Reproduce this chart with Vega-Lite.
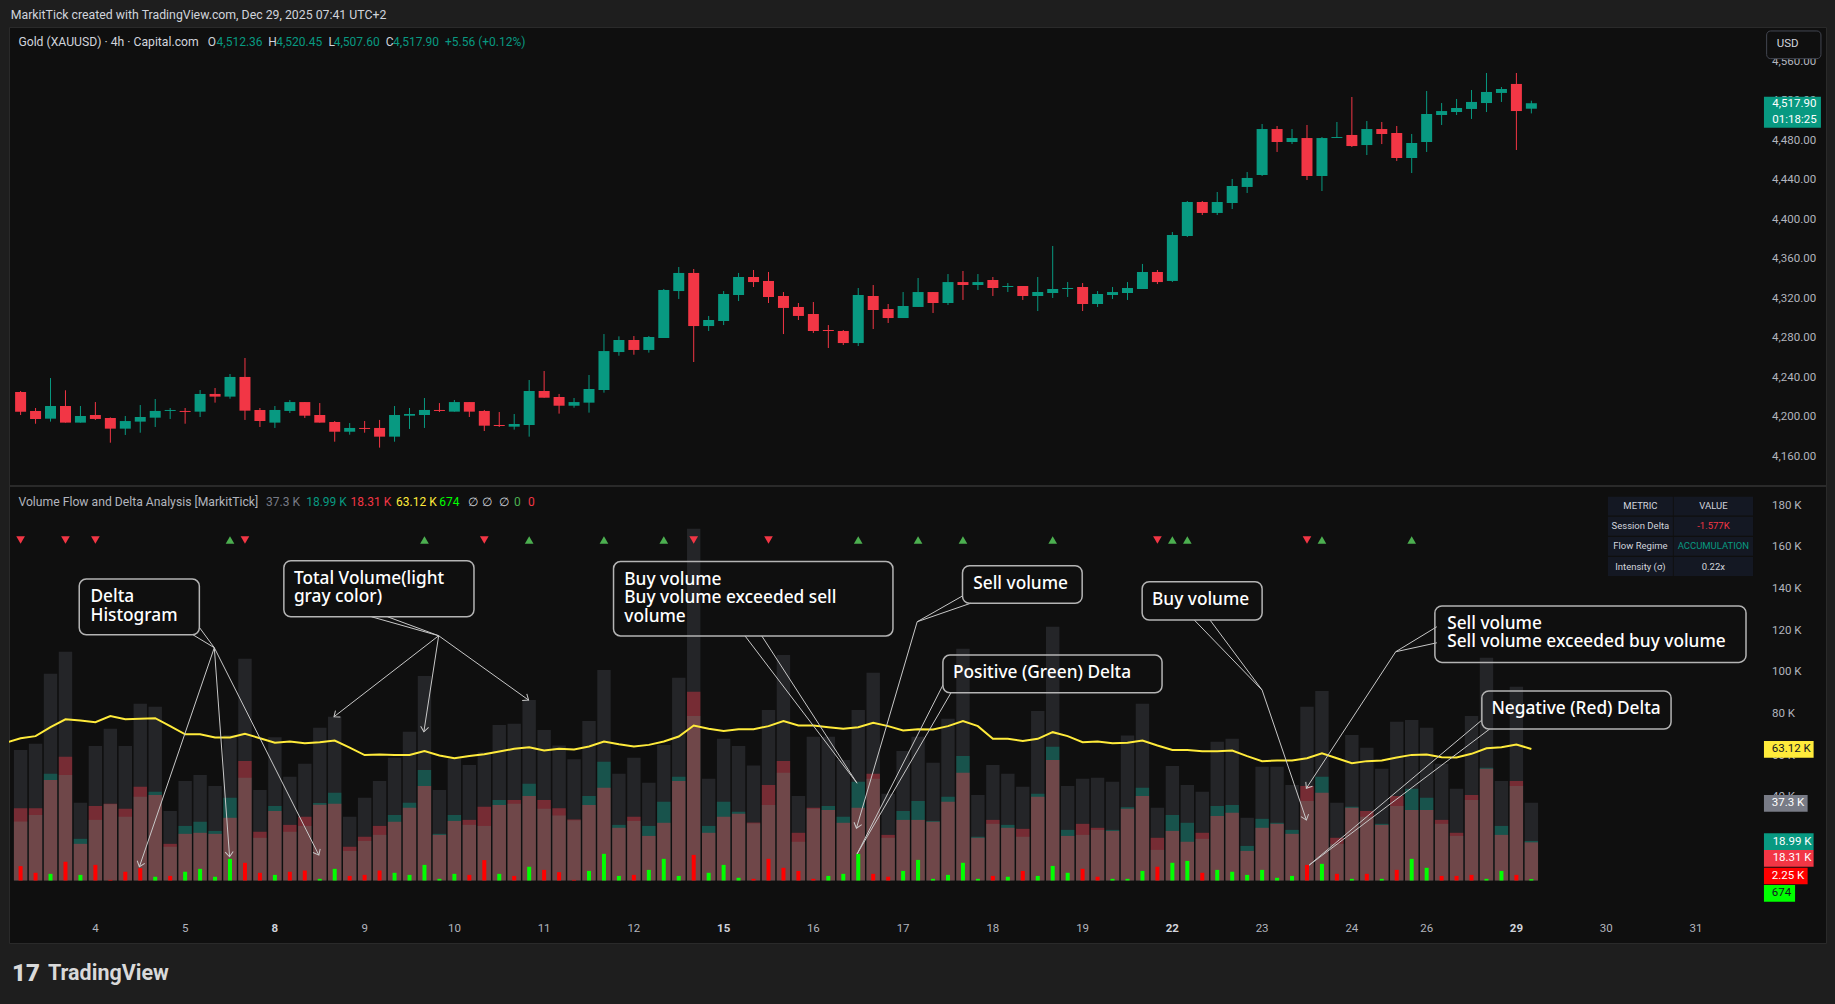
{
"$schema": "https://vega.github.io/schema/vega-lite/v6.json",
"width": 1817,
"height": 916,
"autosize": {"type": "none"},
"padding": {"left": 9, "top": 27, "right": 9, "bottom": 61},
"background": "#1e1e1e",
"config": {
  "view": {"fill": "#0f0f0f", "stroke": "#2a2a2a", "strokeWidth": 1},
  "text": {"font": "Roboto"}
},
"datasets": {
"px": [
{"i":0,"o":4225.8,"h":4226.8,"l":4202.5,"c":4205.9},
{"i":1,"o":4206.6,"h":4209.6,"l":4193.7,"c":4198.5},
{"i":2,"o":4198.8,"h":4239.9,"l":4195.8,"c":4211.6},
{"i":3,"o":4211.6,"h":4227.5,"l":4194.8,"c":4194.8},
{"i":4,"o":4194.8,"h":4211.6,"l":4194.8,"c":4201.5},
{"i":5,"o":4202.5,"h":4215.6,"l":4197.5,"c":4198.5},
{"i":6,"o":4199.5,"h":4200.1,"l":4174.5,"c":4188.7},
{"i":7,"o":4188.7,"h":4201.5,"l":4182.3,"c":4196.4},
{"i":8,"o":4195.8,"h":4212.6,"l":4184.6,"c":4200.5},
{"i":9,"o":4199.8,"h":4218.7,"l":4190.4,"c":4206.6},
{"i":10,"o":4206.6,"h":4209.6,"l":4198.5,"c":4207.6},
{"i":11,"o":4206.6,"h":4209.6,"l":4193.7,"c":4205.6},
{"i":12,"o":4205.9,"h":4227.8,"l":4200.5,"c":4223.8},
{"i":13,"o":4223.8,"h":4229.8,"l":4215.0,"c":4221.1},
{"i":14,"o":4221.1,"h":4244.0,"l":4219.0,"c":4241.0},
{"i":15,"o":4241.0,"h":4260.2,"l":4197.5,"c":4206.9},
{"i":16,"o":4207.6,"h":4209.6,"l":4190.4,"c":4196.4},
{"i":17,"o":4194.8,"h":4211.6,"l":4189.4,"c":4207.6},
{"i":18,"o":4206.6,"h":4217.7,"l":4204.5,"c":4215.6},
{"i":19,"o":4215.6,"h":4215.6,"l":4199.5,"c":4201.8},
{"i":20,"o":4202.5,"h":4214.6,"l":4194.8,"c":4194.8},
{"i":21,"o":4195.4,"h":4196.4,"l":4175.5,"c":4185.6},
{"i":22,"o":4185.6,"h":4194.4,"l":4182.6,"c":4189.4},
{"i":23,"o":4189.4,"h":4196.4,"l":4184.6,"c":4188.4},
{"i":24,"o":4189.4,"h":4197.5,"l":4169.5,"c":4180.6},
{"i":25,"o":4180.6,"h":4211.6,"l":4175.5,"c":4202.5},
{"i":26,"o":4201.8,"h":4209.6,"l":4188.4,"c":4203.5},
{"i":27,"o":4202.5,"h":4219.7,"l":4189.4,"c":4207.6},
{"i":28,"o":4207.6,"h":4214.6,"l":4205.5,"c":4206.6},
{"i":29,"o":4205.9,"h":4217.7,"l":4205.9,"c":4215.6},
{"i":30,"o":4215.6,"h":4215.6,"l":4200.5,"c":4205.9},
{"i":31,"o":4206.6,"h":4207.6,"l":4186.3,"c":4191.7},
{"i":32,"o":4192.4,"h":4205.5,"l":4190.4,"c":4191.4},
{"i":33,"o":4190.7,"h":4203.5,"l":4187.7,"c":4193.4},
{"i":34,"o":4192.4,"h":4237.9,"l":4180.6,"c":4226.8},
{"i":35,"o":4226.8,"h":4247.0,"l":4220.0,"c":4220.0},
{"i":36,"o":4220.7,"h":4223.8,"l":4203.9,"c":4211.9},
{"i":37,"o":4211.9,"h":4219.7,"l":4209.9,"c":4215.6},
{"i":38,"o":4215.0,"h":4243.0,"l":4204.9,"c":4228.8},
{"i":39,"o":4227.8,"h":4284.4,"l":4225.1,"c":4267.2},
{"i":40,"o":4266.2,"h":4282.1,"l":4262.5,"c":4278.4},
{"i":41,"o":4278.4,"h":4282.4,"l":4263.5,"c":4268.3},
{"i":42,"o":4268.3,"h":4282.4,"l":4265.6,"c":4281.4},
{"i":43,"o":4280.4,"h":4330.0,"l":4280.4,"c":4329.0},
{"i":44,"o":4327.9,"h":4352.2,"l":4319.9,"c":4346.2},
{"i":45,"o":4346.2,"h":4350.2,"l":4256.1,"c":4292.5},
{"i":46,"o":4292.5,"h":4302.7,"l":4287.5,"c":4298.6},
{"i":47,"o":4297.6,"h":4327.9,"l":4293.5,"c":4324.9},
{"i":48,"o":4323.9,"h":4346.2,"l":4317.8,"c":4342.1},
{"i":49,"o":4342.1,"h":4349.2,"l":4332.0,"c":4337.0},
{"i":50,"o":4338.1,"h":4347.2,"l":4315.8,"c":4321.9},
{"i":51,"o":4322.9,"h":4326.9,"l":4284.4,"c":4310.8},
{"i":52,"o":4311.8,"h":4315.8,"l":4298.6,"c":4302.7},
{"i":53,"o":4304.7,"h":4316.8,"l":4285.5,"c":4287.5},
{"i":54,"o":4288.5,"h":4293.5,"l":4270.3,"c":4287.5},
{"i":55,"o":4287.5,"h":4288.5,"l":4273.3,"c":4275.3},
{"i":56,"o":4275.3,"h":4331.0,"l":4272.3,"c":4323.9},
{"i":57,"o":4322.9,"h":4334.0,"l":4289.5,"c":4308.7},
{"i":58,"o":4309.7,"h":4314.8,"l":4295.6,"c":4300.6},
{"i":59,"o":4300.6,"h":4326.9,"l":4300.6,"c":4312.8},
{"i":60,"o":4311.8,"h":4341.1,"l":4311.8,"c":4326.9},
{"i":61,"o":4326.9,"h":4326.9,"l":4305.7,"c":4315.8},
{"i":62,"o":4315.8,"h":4345.1,"l":4313.8,"c":4337.0},
{"i":63,"o":4337.0,"h":4348.2,"l":4318.9,"c":4334.0},
{"i":64,"o":4334.0,"h":4345.1,"l":4329.0,"c":4337.0},
{"i":65,"o":4339.1,"h":4342.1,"l":4322.9,"c":4331.0},
{"i":66,"o":4332.0,"h":4336.0,"l":4326.9,"c":4333.0},
{"i":67,"o":4333.0,"h":4333.0,"l":4318.9,"c":4322.9},
{"i":68,"o":4322.9,"h":4342.1,"l":4307.7,"c":4326.9},
{"i":69,"o":4325.9,"h":4373.5,"l":4320.9,"c":4330.0},
{"i":70,"o":4330.0,"h":4337.0,"l":4321.9,"c":4331.0},
{"i":71,"o":4332.0,"h":4336.0,"l":4307.7,"c":4314.8},
{"i":72,"o":4314.8,"h":4327.9,"l":4311.8,"c":4324.9},
{"i":73,"o":4323.9,"h":4332.0,"l":4319.9,"c":4326.9},
{"i":74,"o":4325.9,"h":4337.0,"l":4318.9,"c":4331.0},
{"i":75,"o":4330.0,"h":4355.3,"l":4330.0,"c":4347.2},
{"i":76,"o":4347.2,"h":4349.2,"l":4335.0,"c":4337.0},
{"i":77,"o":4338.1,"h":4387.6,"l":4337.1,"c":4384.6},
{"i":78,"o":4383.6,"h":4419.0,"l":4382.6,"c":4418.0},
{"i":79,"o":4418.0,"h":4419.0,"l":4404.8,"c":4406.9},
{"i":80,"o":4406.9,"h":4428.1,"l":4404.8,"c":4418.0},
{"i":81,"o":4417.0,"h":4441.3,"l":4410.9,"c":4434.2},
{"i":82,"o":4433.2,"h":4448.3,"l":4427.1,"c":4442.3},
{"i":83,"o":4445.3,"h":4496.9,"l":4444.3,"c":4491.8},
{"i":84,"o":4491.8,"h":4494.9,"l":4468.6,"c":4478.7},
{"i":85,"o":4478.7,"h":4491.8,"l":4476.6,"c":4482.7},
{"i":86,"o":4482.7,"h":4495.9,"l":4440.2,"c":4444.3},
{"i":87,"o":4444.3,"h":4483.7,"l":4429.1,"c":4482.7},
{"i":88,"o":4482.7,"h":4498.9,"l":4482.7,"c":4483.7},
{"i":89,"o":4485.8,"h":4524.2,"l":4473.6,"c":4474.6},
{"i":90,"o":4475.6,"h":4499.9,"l":4465.5,"c":4491.8},
{"i":91,"o":4491.8,"h":4498.9,"l":4476.6,"c":4486.8},
{"i":92,"o":4487.8,"h":4494.9,"l":4459.5,"c":4462.5},
{"i":93,"o":4462.5,"h":4486.8,"l":4447.3,"c":4477.7},
{"i":94,"o":4478.7,"h":4530.3,"l":4468.6,"c":4507.0},
{"i":95,"o":4506.0,"h":4518.1,"l":4495.9,"c":4510.0},
{"i":96,"o":4509.0,"h":4522.2,"l":4506.0,"c":4513.1},
{"i":97,"o":4512.1,"h":4531.3,"l":4502.0,"c":4519.2},
{"i":98,"o":4518.1,"h":4548.5,"l":4509.0,"c":4529.3},
{"i":99,"o":4528.3,"h":4534.3,"l":4519.2,"c":4532.3},
{"i":100,"o":4537.4,"h":4548.5,"l":4470.6,"c":4510.0},
{"i":101,"o":4512.36,"h":4520.45,"l":4507.60,"c":4517.90}
],
"flow": [
{"i":-1,"ma":66100},
{"i":0,"total":62700,"buy":28300,"sell":34700,"delta":6900,"ma":68300,"sig":"down"},
{"i":1,"total":65600,"buy":31500,"sell":34700,"delta":3700,"ma":69300},
{"i":2,"total":99200,"buy":51200,"sell":48300,"delta":3200,"ma":73600},
{"i":3,"total":109800,"buy":50700,"sell":59400,"delta":9000,"ma":77400,"sig":"down"},
{"i":4,"total":37300,"buy":20000,"sell":17600,"delta":2700,"ma":76800},
{"i":5,"total":64600,"buy":29100,"sell":35800,"delta":7500,"ma":76000,"sig":"down"},
{"i":6,"total":72800,"buy":36600,"sell":36900,"delta":300,"ma":78900},
{"i":7,"total":64600,"buy":30600,"sell":34400,"delta":4200,"ma":77400},
{"i":8,"total":84800,"buy":40200,"sell":45000,"delta":5900,"ma":77600},
{"i":9,"total":83400,"buy":42600,"sell":41100,"delta":1800,"ma":77900},
{"i":10,"total":33400,"buy":16200,"sell":17600,"delta":2200,"ma":74100},
{"i":11,"total":47800,"buy":26200,"sell":22400,"delta":4200,"ma":70200},
{"i":12,"total":50700,"buy":28200,"sell":22900,"delta":5600,"ma":70200},
{"i":13,"total":45400,"buy":23800,"sell":22400,"delta":1800,"ma":68600},
{"i":14,"total":69800,"buy":39700,"sell":30100,"delta":10400,"ma":68600,"sig":"up"},
{"i":15,"total":106400,"buy":49300,"sell":57400,"delta":8500,"ma":70400,"sig":"down"},
{"i":16,"total":43500,"buy":20500,"sell":23400,"delta":3700,"ma":68300},
{"i":17,"total":68800,"buy":35800,"sell":33400,"delta":2700,"ma":66100},
{"i":18,"total":49800,"buy":23400,"sell":26700,"delta":4200,"ma":66700},
{"i":19,"total":56000,"buy":26200,"sell":30600,"delta":4800,"ma":65900},
{"i":20,"total":73300,"buy":37200,"sell":36400,"delta":800,"ma":66400},
{"i":21,"total":78600,"buy":42100,"sell":36800,"delta":5600,"ma":67200},
{"i":22,"total":30600,"buy":14200,"sell":16200,"delta":2200,"ma":63800},
{"i":23,"total":39700,"buy":19000,"sell":21000,"delta":2700,"ma":60200},
{"i":24,"total":47800,"buy":21900,"sell":26200,"delta":4800,"ma":60500},
{"i":25,"total":58900,"buy":31500,"sell":28200,"delta":3700,"ma":60300},
{"i":26,"total":71400,"buy":37300,"sell":34900,"delta":2700,"ma":60300},
{"i":27,"total":98200,"buy":53100,"sell":45400,"delta":7500,"ma":62100,"sig":"up"},
{"i":28,"total":43500,"buy":22400,"sell":21900,"delta":800,"ma":60000},
{"i":29,"total":58400,"buy":31500,"sell":28600,"delta":3200,"ma":58700},
{"i":30,"total":55500,"buy":26700,"sell":29100,"delta":2700,"ma":59800},
{"i":31,"total":61600,"buy":26200,"sell":35400,"delta":9800,"ma":60600,"sig":"down"},
{"i":32,"total":74700,"buy":38700,"sell":36300,"delta":3200,"ma":61900},
{"i":33,"total":75200,"buy":36800,"sell":38700,"delta":2200,"ma":63200},
{"i":34,"total":86700,"buy":46400,"sell":40600,"delta":6600,"ma":64000,"sig":"up"},
{"i":35,"total":72300,"buy":34400,"sell":38700,"delta":5100,"ma":62400},
{"i":36,"total":64800,"buy":31200,"sell":34700,"delta":4000,"ma":63200},
{"i":37,"total":58200,"buy":28900,"sell":29300,"delta":300,"ma":62900},
{"i":38,"total":76600,"buy":40600,"sell":36300,"delta":4600,"ma":64300},
{"i":39,"total":101100,"buy":57000,"sell":44500,"delta":12800,"ma":66700,"sig":"up"},
{"i":40,"total":51200,"buy":26700,"sell":25300,"delta":2200,"ma":65400},
{"i":41,"total":58900,"buy":28600,"sell":30600,"delta":2700,"ma":64300},
{"i":42,"total":46900,"buy":26200,"sell":21400,"delta":5100,"ma":65100},
{"i":43,"total":65100,"buy":37800,"sell":27700,"delta":10400,"ma":66700,"sig":"up"},
{"i":44,"total":97300,"buy":49800,"sell":47800,"delta":2200,"ma":69100},
{"i":45,"total":168800,"buy":79000,"sell":90600,"delta":12300,"ma":74400,"sig":"down"},
{"i":46,"total":48800,"buy":26200,"sell":22900,"delta":3700,"ma":72800},
{"i":47,"total":68000,"buy":37800,"sell":30600,"delta":7500,"ma":71800},
{"i":48,"total":64600,"buy":33000,"sell":32000,"delta":1300,"ma":72600},
{"i":49,"total":55200,"buy":27400,"sell":27800,"delta":800,"ma":72600},
{"i":50,"total":81900,"buy":36300,"sell":45900,"delta":10400,"ma":74100,"sig":"down"},
{"i":51,"total":108300,"buy":51700,"sell":57400,"delta":6100,"ma":76500},
{"i":52,"total":40600,"buy":18600,"sell":22900,"delta":4600,"ma":74400},
{"i":53,"total":69000,"buy":34400,"sell":34900,"delta":800,"ma":74400},
{"i":54,"total":69000,"buy":35800,"sell":33900,"delta":2200,"ma":73600},
{"i":55,"total":57900,"buy":30600,"sell":27700,"delta":3200,"ma":72800},
{"i":56,"total":81900,"buy":47400,"sell":34900,"delta":12800,"ma":73600,"sig":"up"},
{"i":57,"total":99700,"buy":48800,"sell":51200,"delta":3200,"ma":75700},
{"i":58,"total":41600,"buy":20500,"sell":21900,"delta":1800,"ma":74100},
{"i":59,"total":62200,"buy":33400,"sell":29100,"delta":4600,"ma":72000},
{"i":60,"total":69000,"buy":38200,"sell":29100,"delta":9900,"ma":72600,"sig":"up"},
{"i":61,"total":56500,"buy":28600,"sell":28200,"delta":800,"ma":72500},
{"i":62,"total":77600,"buy":40200,"sell":37800,"delta":2700,"ma":74100},
{"i":63,"total":111200,"buy":59800,"sell":51700,"delta":8500,"ma":76500,"sig":"up"},
{"i":64,"total":41100,"buy":21000,"sell":20500,"delta":800,"ma":74100},
{"i":65,"total":55500,"buy":27200,"sell":29100,"delta":2200,"ma":68000},
{"i":66,"total":51200,"buy":26700,"sell":25300,"delta":1800,"ma":68000},
{"i":67,"total":45000,"buy":21000,"sell":24800,"delta":4600,"ma":67000},
{"i":68,"total":81400,"buy":41600,"sell":40200,"delta":2200,"ma":68000},
{"i":69,"total":121800,"buy":64200,"sell":57900,"delta":7000,"ma":71200,"sig":"up"},
{"i":70,"total":45400,"buy":24300,"sell":21400,"delta":3700,"ma":69300},
{"i":71,"total":48800,"buy":21900,"sell":27200,"delta":5600,"ma":66400},
{"i":72,"total":49300,"buy":24300,"sell":25300,"delta":1800,"ma":66700},
{"i":73,"total":47400,"buy":24300,"sell":23800,"delta":800,"ma":65900},
{"i":74,"total":69600,"buy":35200,"sell":34400,"delta":800,"ma":66100},
{"i":75,"total":84800,"buy":44500,"sell":40600,"delta":4600,"ma":67200},
{"i":76,"total":34900,"buy":14700,"sell":20500,"delta":6600,"ma":64800,"sig":"down"},
{"i":77,"total":55000,"buy":31500,"sell":23800,"delta":8500,"ma":62700,"sig":"up"},
{"i":78,"total":45900,"buy":27700,"sell":18600,"delta":9400,"ma":62700,"sig":"up"},
{"i":79,"total":42600,"buy":20000,"sell":22900,"delta":3700,"ma":62100},
{"i":80,"total":66600,"buy":35800,"sell":31000,"delta":5100,"ma":62100},
{"i":81,"total":68000,"buy":36300,"sell":32500,"delta":4200,"ma":62400},
{"i":82,"total":30100,"buy":16600,"sell":14200,"delta":2700,"ma":59700},
{"i":83,"total":54600,"buy":29600,"sell":25300,"delta":5100,"ma":57300},
{"i":84,"total":54600,"buy":27700,"sell":27200,"delta":1300,"ma":57600},
{"i":85,"total":45900,"buy":24300,"sell":22400,"delta":2200,"ma":57600},
{"i":86,"total":83400,"buy":38200,"sell":45400,"delta":7500,"ma":58700,"sig":"down"},
{"i":87,"total":91000,"buy":49800,"sell":42100,"delta":8000,"ma":61100,"sig":"up"},
{"i":88,"total":37300,"buy":17600,"sell":20500,"delta":3200,"ma":58700},
{"i":89,"total":69900,"buy":35400,"sell":34900,"delta":800,"ma":56300},
{"i":90,"total":63700,"buy":30600,"sell":33400,"delta":3200,"ma":57300},
{"i":91,"total":53600,"buy":27200,"sell":26700,"delta":800,"ma":57600},
{"i":92,"total":76200,"buy":35800,"sell":40600,"delta":5100,"ma":59000},
{"i":93,"total":77100,"buy":44000,"sell":33900,"delta":10400,"ma":60300,"sig":"up"},
{"i":94,"total":73300,"buy":39700,"sell":33900,"delta":6100,"ma":60500},
{"i":95,"total":56000,"buy":27200,"sell":29100,"delta":2200,"ma":59200},
{"i":96,"total":44000,"buy":21400,"sell":22900,"delta":2200,"ma":59000},
{"i":97,"total":79000,"buy":38700,"sell":41100,"delta":2700,"ma":60800},
{"i":98,"total":106900,"buy":54100,"sell":53600,"delta":800,"ma":63500},
{"i":99,"total":47800,"buy":26200,"sell":21900,"delta":4600,"ma":64000},
{"i":100,"total":93000,"buy":45400,"sell":47800,"delta":2700,"ma":65300},
{"i":101,"total":37300,"buy":18990,"sell":18310,"delta":674,"ma":63120}
],
"tbl": [
{"metric":"METRIC","value":"VALUE"},
{"metric":"Session Delta","value":"-1.577K"},
{"metric":"Flow Regime","value":"ACCUMULATION"},
{"metric":"Intensity (σ)","value":"0.22x"}
],
"plev": [{"p":4160},{"p":4200},{"p":4240},{"p":4280},{"p":4320},{"p":4360},{"p":4400},{"p":4440},{"p":4480},{"p":4520},{"p":4560}],
"vlev": [{"v":40000,"lab":"40 K"},{"v":60000,"lab":"60 K"},{"v":80000,"lab":"80 K"},{"v":100000,"lab":"100 K"},{"v":120000,"lab":"120 K"},{"v":140000,"lab":"140 K"},{"v":160000,"lab":"160 K"},{"v":180000,"lab":"180 K"}],
"days": [
{"i":5,"d":"4","mon":false},{"i":11,"d":"5","mon":false},{"i":17,"d":"8","mon":true},{"i":23,"d":"9","mon":false},
{"i":29,"d":"10","mon":false},{"i":35,"d":"11","mon":false},{"i":41,"d":"12","mon":false},{"i":47,"d":"15","mon":true},
{"i":53,"d":"16","mon":false},{"i":59,"d":"17","mon":false},{"i":65,"d":"18","mon":false},{"i":71,"d":"19","mon":false},
{"i":77,"d":"22","mon":true},{"i":83,"d":"23","mon":false},{"i":89,"d":"24","mon":false},{"i":94,"d":"26","mon":false},
{"i":100,"d":"29","mon":true},{"i":106,"d":"30","mon":false},{"i":112,"d":"31","mon":false}
]
},
"resolve": {"scale": {"y": "independent"}},
"layer": [
{
"data": {"name": "px"},
"layer": [
{"mark": {"type": "rule", "strokeWidth": 1},
 "encoding": {
  "x": {"field": "i", "type": "quantitative", "scale": {"domain": [-0.7755, 120.698], "nice": false, "zero": false, "padding": 0}, "axis": null},
  "y": {"field": "l", "type": "quantitative", "scale": {"domain": [3668.37, 4595.02], "nice": false, "zero": false}, "axis": null},
  "y2": {"field": "h"},
  "color": {"condition": {"test": "datum.c >= datum.o", "value": "#089981"}, "value": "#f23645"}
 }},
{"mark": {"type": "bar", "size": 11},
 "encoding": {
  "x": {"field": "i", "type": "quantitative", "axis": null},
  "y": {"field": "o", "type": "quantitative", "axis": null},
  "y2": {"field": "c"},
  "color": {"condition": {"test": "datum.c >= datum.o", "value": "#089981"}, "value": "#f23645"}
 }},
{"data": {"name": "plev"}, "mark": {"type": "text", "align": "left", "baseline": "middle", "fontSize": 11.5, "color": "#b2b5be"},
 "encoding": {"x": {"datum": 117.09, "type": "quantitative", "axis": null}, "y": {"field": "p", "type": "quantitative", "axis": null}, "text": {"field": "p", "type": "quantitative", "format": ",.2f"}}},
{"data": {"values": [{}]}, "mark": {"type": "rule", "color": "#2a2a2a", "strokeWidth": 2},
 "encoding": {"x": {"datum": -0.7755, "type": "quantitative", "axis": null}, "x2": {"datum": 120.698}, "y": {"datum": 4130.7, "type": "quantitative", "axis": null}}},
{"data": {"values": [{}]}, "mark": {"type": "text", "align": "left", "baseline": "middle", "fontSize": 12.3, "color": "#d1d4dc"},
 "encoding": {"x": {"datum": -0.66, "type": "quantitative", "axis": null}, "y": {"datum": 4607.2, "type": "quantitative", "axis": null}, "text": {"value": "MarkitTick created with TradingView.com, Dec 29, 2025 07:41 UTC+2"}}},
{"data": {"values": [{}]}, "mark": {"type": "text", "align": "left", "baseline": "middle", "fontSize": 12.2, "color": "#d1d4dc"},
 "encoding": {"x": {"datum": -0.147, "type": "quantitative", "axis": null}, "y": {"datum": 4579.5, "type": "quantitative", "axis": null}, "text": {"value": "Gold (XAUUSD) · 4h · Capital.com"}}},
{"data": {"values": [{}]}, "mark": {"type": "text", "align": "left", "baseline": "middle", "fontSize": 12, "color": "#d1d4dc"},
 "encoding": {"x": {"datum": 12.515, "type": "quantitative", "axis": null}, "y": {"datum": 4579.5, "type": "quantitative", "axis": null}, "text": {"value": "O"}}},
{"data": {"values": [{}]}, "mark": {"type": "text", "align": "left", "baseline": "middle", "fontSize": 12, "color": "#089981"},
 "encoding": {"x": {"datum": 13.10, "type": "quantitative", "axis": null}, "y": {"datum": 4579.5, "type": "quantitative", "axis": null}, "text": {"value": "4,512.36"}}},
{"data": {"values": [{}]}, "mark": {"type": "text", "align": "left", "baseline": "middle", "fontSize": 12, "color": "#d1d4dc"},
 "encoding": {"x": {"datum": 16.56, "type": "quantitative", "axis": null}, "y": {"datum": 4579.5, "type": "quantitative", "axis": null}, "text": {"value": "H"}}},
{"data": {"values": [{}]}, "mark": {"type": "text", "align": "left", "baseline": "middle", "fontSize": 12, "color": "#089981"},
 "encoding": {"x": {"datum": 17.09, "type": "quantitative", "axis": null}, "y": {"datum": 4579.5, "type": "quantitative", "axis": null}, "text": {"value": "4,520.45"}}},
{"data": {"values": [{}]}, "mark": {"type": "text", "align": "left", "baseline": "middle", "fontSize": 12, "color": "#d1d4dc"},
 "encoding": {"x": {"datum": 20.58, "type": "quantitative", "axis": null}, "y": {"datum": 4579.5, "type": "quantitative", "axis": null}, "text": {"value": "L"}}},
{"data": {"values": [{}]}, "mark": {"type": "text", "align": "left", "baseline": "middle", "fontSize": 12, "color": "#089981"},
 "encoding": {"x": {"datum": 20.93, "type": "quantitative", "axis": null}, "y": {"datum": 4579.5, "type": "quantitative", "axis": null}, "text": {"value": "4,507.60"}}},
{"data": {"values": [{}]}, "mark": {"type": "text", "align": "left", "baseline": "middle", "fontSize": 12, "color": "#d1d4dc"},
 "encoding": {"x": {"datum": 24.42, "type": "quantitative", "axis": null}, "y": {"datum": 4579.5, "type": "quantitative", "axis": null}, "text": {"value": "C"}}},
{"data": {"values": [{}]}, "mark": {"type": "text", "align": "left", "baseline": "middle", "fontSize": 12, "color": "#089981"},
 "encoding": {"x": {"datum": 24.90, "type": "quantitative", "axis": null}, "y": {"datum": 4579.5, "type": "quantitative", "axis": null}, "text": {"value": "4,517.90"}}},
{"data": {"values": [{}]}, "mark": {"type": "text", "align": "left", "baseline": "middle", "fontSize": 12, "color": "#089981"},
 "encoding": {"x": {"datum": 28.37, "type": "quantitative", "axis": null}, "y": {"datum": 4579.5, "type": "quantitative", "axis": null}, "text": {"value": "+5.56 (+0.12%)"}}},
{"data": {"values": [{}]}, "mark": {"type": "rect", "fill": "#0f0f0f", "stroke": "#434651", "strokeWidth": 1, "cornerRadius": 4},
 "encoding": {"x": {"datum": 116.73, "type": "quantitative", "axis": null}, "x2": {"datum": 120.36}, "y": {"datum": 4591.0, "type": "quantitative", "axis": null}, "y2": {"datum": 4563.0}}},
{"data": {"values": [{}]}, "mark": {"type": "text", "align": "left", "baseline": "middle", "fontSize": 11.5, "color": "#d1d4dc"},
 "encoding": {"x": {"datum": 117.40, "type": "quantitative", "axis": null}, "y": {"datum": 4577.5, "type": "quantitative", "axis": null}, "text": {"value": "USD"}}},
{"data": {"values": [{}]}, "mark": {"type": "rect", "fill": "#089981"},
 "encoding": {"x": {"datum": 116.55, "type": "quantitative", "axis": null}, "x2": {"datum": 120.36}, "y": {"datum": 4524.5, "type": "quantitative", "axis": null}, "y2": {"datum": 4493.2}}},
{"data": {"values": [{}]}, "mark": {"type": "text", "align": "left", "baseline": "middle", "fontSize": 11.5, "color": "#ffffff"},
 "encoding": {"x": {"datum": 117.11, "type": "quantitative", "axis": null}, "y": {"datum": 4517.1, "type": "quantitative", "axis": null}, "text": {"value": "4,517.90"}}},
{"data": {"values": [{}]}, "mark": {"type": "text", "align": "left", "baseline": "middle", "fontSize": 11.5, "color": "#ffffff"},
 "encoding": {"x": {"datum": 117.11, "type": "quantitative", "axis": null}, "y": {"datum": 4501.4, "type": "quantitative", "axis": null}, "text": {"value": "01:18:25"}}}
]
},
{
"data": {"name": "flow"},
"layer": [
{"mark": {"type": "bar", "size": 13.4, "color": "#242528"},
 "encoding": {
  "x": {"field": "i", "type": "quantitative", "axis": null},
  "y": {"field": "total", "type": "quantitative", "stack": null, "scale": {"domain": [-30000, 409700], "nice": false, "zero": false}, "axis": null}
 }},
{"mark": {"type": "bar", "size": 13.4, "color": "#089981", "opacity": 0.4},
 "encoding": {"x": {"field": "i", "type": "quantitative", "axis": null}, "y": {"field": "buy", "type": "quantitative", "stack": null, "axis": null}}},
{"mark": {"type": "bar", "size": 13.4, "color": "#f23645", "opacity": 0.4},
 "encoding": {"x": {"field": "i", "type": "quantitative", "axis": null}, "y": {"field": "sell", "type": "quantitative", "stack": null, "axis": null}}},
{"mark": {"type": "bar", "size": 4},
 "encoding": {"x": {"field": "i", "type": "quantitative", "axis": null}, "y": {"field": "delta", "type": "quantitative", "stack": null, "axis": null},
  "color": {"condition": {"test": "datum.buy >= datum.sell", "value": "#00ff00"}, "value": "#ff0000"}}},
{"mark": {"type": "line", "color": "#ffeb3b", "strokeWidth": 2, "clip": true},
 "encoding": {"x": {"field": "i", "type": "quantitative", "axis": null}, "y": {"field": "ma", "type": "quantitative", "axis": null}}},
{"transform": [{"filter": "isValid(datum.sig)"}],
 "mark": {"type": "point", "filled": true, "size": 75, "opacity": 1},
 "encoding": {"x": {"field": "i", "type": "quantitative", "axis": null}, "y": {"datum": 163500, "type": "quantitative", "axis": null},
  "shape": {"field": "sig", "type": "nominal", "scale": {"domain": ["up", "down"], "range": ["triangle-up", "triangle-down"]}, "legend": null},
  "color": {"condition": {"test": "datum.sig == 'up'", "value": "#4caf50"}, "value": "#f23645"}}},

{"data": {"name": "vlev"}, "mark": {"type": "text", "align": "left", "baseline": "middle", "fontSize": 11.5, "color": "#b2b5be"},
 "encoding": {"x": {"datum": 117.09, "type": "quantitative", "axis": null}, "y": {"field": "v", "type": "quantitative", "axis": null}, "text": {"field": "lab"}}},
{"data": {"name": "days"}, "transform": [{"filter": "!datum.mon"}], "mark": {"type": "text", "align": "center", "baseline": "middle", "fontSize": 11.5, "color": "#b2b5be"},
 "encoding": {"x": {"field": "i", "type": "quantitative", "axis": null}, "y": {"datum": -23280, "type": "quantitative", "axis": null}, "text": {"field": "d"}}},
{"data": {"name": "days"}, "transform": [{"filter": "datum.mon"}], "mark": {"type": "text", "align": "center", "baseline": "middle", "fontSize": 11.5, "fontWeight": "bold", "color": "#d1d4dc"},
 "encoding": {"x": {"field": "i", "type": "quantitative", "axis": null}, "y": {"datum": -23280, "type": "quantitative", "axis": null}, "text": {"field": "d"}}},

{"data": {"values": [{}]}, "mark": {"type": "text", "align": "left", "baseline": "middle", "fontSize": 12.2, "color": "#b2b5be"},
 "encoding": {"x": {"datum": -0.147, "type": "quantitative", "axis": null}, "y": {"datum": 181500, "type": "quantitative", "axis": null}, "text": {"value": "Volume Flow and Delta Analysis [MarkitTick]"}}},
{"data": {"values": [{}]}, "mark": {"type": "text", "align": "left", "baseline": "middle", "fontSize": 12, "color": "#787b86"},
 "encoding": {"x": {"datum": 16.41, "type": "quantitative", "axis": null}, "y": {"datum": 181500, "type": "quantitative", "axis": null}, "text": {"value": "37.3 K"}}},
{"data": {"values": [{}]}, "mark": {"type": "text", "align": "left", "baseline": "middle", "fontSize": 12, "color": "#089981"},
 "encoding": {"x": {"datum": 19.09, "type": "quantitative", "axis": null}, "y": {"datum": 181500, "type": "quantitative", "axis": null}, "text": {"value": "18.99 K"}}},
{"data": {"values": [{}]}, "mark": {"type": "text", "align": "left", "baseline": "middle", "fontSize": 12, "color": "#f23645"},
 "encoding": {"x": {"datum": 22.06, "type": "quantitative", "axis": null}, "y": {"datum": 181500, "type": "quantitative", "axis": null}, "text": {"value": "18.31 K"}}},
{"data": {"values": [{}]}, "mark": {"type": "text", "align": "left", "baseline": "middle", "fontSize": 12, "color": "#ffeb3b"},
 "encoding": {"x": {"datum": 25.10, "type": "quantitative", "axis": null}, "y": {"datum": 181500, "type": "quantitative", "axis": null}, "text": {"value": "63.12 K"}}},
{"data": {"values": [{}]}, "mark": {"type": "text", "align": "left", "baseline": "middle", "fontSize": 12, "color": "#00ff00"},
 "encoding": {"x": {"datum": 27.99, "type": "quantitative", "axis": null}, "y": {"datum": 181500, "type": "quantitative", "axis": null}, "text": {"value": "674"}}},
{"data": {"values": [{}]}, "mark": {"type": "text", "align": "left", "baseline": "middle", "fontSize": 12, "color": "#d1d4dc"},
 "encoding": {"x": {"datum": 29.89, "type": "quantitative", "axis": null}, "y": {"datum": 181500, "type": "quantitative", "axis": null}, "text": {"value": "∅"}}},
{"data": {"values": [{}]}, "mark": {"type": "text", "align": "left", "baseline": "middle", "fontSize": 12, "color": "#d1d4dc"},
 "encoding": {"x": {"datum": 30.86, "type": "quantitative", "axis": null}, "y": {"datum": 181500, "type": "quantitative", "axis": null}, "text": {"value": "∅"}}},
{"data": {"values": [{}]}, "mark": {"type": "text", "align": "left", "baseline": "middle", "fontSize": 12, "color": "#d1d4dc"},
 "encoding": {"x": {"datum": 32.01, "type": "quantitative", "axis": null}, "y": {"datum": 181500, "type": "quantitative", "axis": null}, "text": {"value": "∅"}}},
{"data": {"values": [{}]}, "mark": {"type": "text", "align": "left", "baseline": "middle", "fontSize": 12, "color": "#4caf50"},
 "encoding": {"x": {"datum": 32.99, "type": "quantitative", "axis": null}, "y": {"datum": 181500, "type": "quantitative", "axis": null}, "text": {"value": "0"}}},
{"data": {"values": [{}]}, "mark": {"type": "text", "align": "left", "baseline": "middle", "fontSize": 12, "color": "#f23645"},
 "encoding": {"x": {"datum": 33.93, "type": "quantitative", "axis": null}, "y": {"datum": 181500, "type": "quantitative", "axis": null}, "text": {"value": "0"}}},

{"data": {"values": [{}]}, "mark": {"type": "rule", "color": "#c8c8c8", "strokeWidth": 1},
 "encoding": {"x": {"datum": 11.52, "type": "quantitative", "axis": null}, "y": {"datum": 117960, "type": "quantitative", "axis": null}, "x2": {"datum": 12.95}, "y2": {"datum": 111750}}},
{"data": {"values": [{}]}, "mark": {"type": "rule", "color": "#c8c8c8", "strokeWidth": 1},
 "encoding": {"x": {"datum": 11.95, "type": "quantitative", "axis": null}, "y": {"datum": 121500, "type": "quantitative", "axis": null}, "x2": {"datum": 12.95}, "y2": {"datum": 111750}}},
{"data": {"values": [{}]}, "mark": {"type": "rule", "color": "#c8c8c8", "strokeWidth": 1},
 "encoding": {"x": {"datum": 12.95, "type": "quantitative", "axis": null}, "y": {"datum": 111750, "type": "quantitative", "axis": null}, "x2": {"datum": 7.94}, "y2": {"datum": 6600}}},
{"data": {"values": [{}]}, "mark": {"type": "rule", "color": "#c8c8c8", "strokeWidth": 1},
 "encoding": {"x": {"datum": 12.95, "type": "quantitative", "axis": null}, "y": {"datum": 111750, "type": "quantitative", "axis": null}, "x2": {"datum": 13.97}, "y2": {"datum": 11400}}},
{"data": {"values": [{}]}, "mark": {"type": "rule", "color": "#c8c8c8", "strokeWidth": 1},
 "encoding": {"x": {"datum": 12.95, "type": "quantitative", "axis": null}, "y": {"datum": 111750, "type": "quantitative", "axis": null}, "x2": {"datum": 19.94}, "y2": {"datum": 12200}}},
{"data": {"values": [{}]}, "mark": {"type": "rule", "color": "#c8c8c8", "strokeWidth": 1},
 "encoding": {"x": {"datum": 23.45, "type": "quantitative", "axis": null}, "y": {"datum": 126600, "type": "quantitative", "axis": null}, "x2": {"datum": 27.95}, "y2": {"datum": 117500}}},
{"data": {"values": [{}]}, "mark": {"type": "rule", "color": "#c8c8c8", "strokeWidth": 1},
 "encoding": {"x": {"datum": 24.53, "type": "quantitative", "axis": null}, "y": {"datum": 126600, "type": "quantitative", "axis": null}, "x2": {"datum": 27.95}, "y2": {"datum": 117500}}},
{"data": {"values": [{}]}, "mark": {"type": "rule", "color": "#c8c8c8", "strokeWidth": 1},
 "encoding": {"x": {"datum": 27.95, "type": "quantitative", "axis": null}, "y": {"datum": 117500, "type": "quantitative", "axis": null}, "x2": {"datum": 20.95}, "y2": {"datum": 78600}}},
{"data": {"values": [{}]}, "mark": {"type": "rule", "color": "#c8c8c8", "strokeWidth": 1},
 "encoding": {"x": {"datum": 27.95, "type": "quantitative", "axis": null}, "y": {"datum": 117500, "type": "quantitative", "axis": null}, "x2": {"datum": 26.96}, "y2": {"datum": 71400}}},
{"data": {"values": [{}]}, "mark": {"type": "rule", "color": "#c8c8c8", "strokeWidth": 1},
 "encoding": {"x": {"datum": 27.95, "type": "quantitative", "axis": null}, "y": {"datum": 117500, "type": "quantitative", "axis": null}, "x2": {"datum": 33.96}, "y2": {"datum": 86600}}},
{"data": {"values": [{}]}, "mark": {"type": "rule", "color": "#c8c8c8", "strokeWidth": 1},
 "encoding": {"x": {"datum": 48.43, "type": "quantitative", "axis": null}, "y": {"datum": 117400, "type": "quantitative", "axis": null}, "x2": {"datum": 55.92}, "y2": {"datum": 46700}}},
{"data": {"values": [{}]}, "mark": {"type": "rule", "color": "#c8c8c8", "strokeWidth": 1},
 "encoding": {"x": {"datum": 49.55, "type": "quantitative", "axis": null}, "y": {"datum": 117400, "type": "quantitative", "axis": null}, "x2": {"datum": 55.92}, "y2": {"datum": 46700}}},
{"data": {"values": [{}]}, "mark": {"type": "rule", "color": "#c8c8c8", "strokeWidth": 1},
 "encoding": {"x": {"datum": 62.97, "type": "quantitative", "axis": null}, "y": {"datum": 136600, "type": "quantitative", "axis": null}, "x2": {"datum": 59.94}, "y2": {"datum": 124200}}},
{"data": {"values": [{}]}, "mark": {"type": "rule", "color": "#c8c8c8", "strokeWidth": 1},
 "encoding": {"x": {"datum": 63.52, "type": "quantitative", "axis": null}, "y": {"datum": 133100, "type": "quantitative", "axis": null}, "x2": {"datum": 59.94}, "y2": {"datum": 124200}}},
{"data": {"values": [{}]}, "mark": {"type": "rule", "color": "#c8c8c8", "strokeWidth": 1},
 "encoding": {"x": {"datum": 59.94, "type": "quantitative", "axis": null}, "y": {"datum": 124200, "type": "quantitative", "axis": null}, "x2": {"datum": 55.88}, "y2": {"datum": 25100}}},
{"data": {"values": [{}]}, "mark": {"type": "rule", "color": "#c8c8c8", "strokeWidth": 1},
 "encoding": {"x": {"datum": 61.66, "type": "quantitative", "axis": null}, "y": {"datum": 93800, "type": "quantitative", "axis": null}, "x2": {"datum": 55.92}, "y2": {"datum": 12700}}},
{"data": {"values": [{}]}, "mark": {"type": "rule", "color": "#c8c8c8", "strokeWidth": 1},
 "encoding": {"x": {"datum": 62.2, "type": "quantitative", "axis": null}, "y": {"datum": 90100, "type": "quantitative", "axis": null}, "x2": {"datum": 55.92}, "y2": {"datum": 12700}}},
{"data": {"values": [{}]}, "mark": {"type": "rule", "color": "#c8c8c8", "strokeWidth": 1},
 "encoding": {"x": {"datum": 78.47, "type": "quantitative", "axis": null}, "y": {"datum": 125000, "type": "quantitative", "axis": null}, "x2": {"datum": 83.0}, "y2": {"datum": 91400}}},
{"data": {"values": [{}]}, "mark": {"type": "rule", "color": "#c8c8c8", "strokeWidth": 1},
 "encoding": {"x": {"datum": 79.52, "type": "quantitative", "axis": null}, "y": {"datum": 125000, "type": "quantitative", "axis": null}, "x2": {"datum": 83.0}, "y2": {"datum": 91400}}},
{"data": {"values": [{}]}, "mark": {"type": "rule", "color": "#c8c8c8", "strokeWidth": 1},
 "encoding": {"x": {"datum": 83.0, "type": "quantitative", "axis": null}, "y": {"datum": 91400, "type": "quantitative", "axis": null}, "x2": {"datum": 85.96}, "y2": {"datum": 29000}}},
{"data": {"values": [{}]}, "mark": {"type": "rule", "color": "#c8c8c8", "strokeWidth": 1},
 "encoding": {"x": {"datum": 94.68, "type": "quantitative", "axis": null}, "y": {"datum": 121800, "type": "quantitative", "axis": null}, "x2": {"datum": 91.93}, "y2": {"datum": 109800}}},
{"data": {"values": [{}]}, "mark": {"type": "rule", "color": "#c8c8c8", "strokeWidth": 1},
 "encoding": {"x": {"datum": 94.68, "type": "quantitative", "axis": null}, "y": {"datum": 114100, "type": "quantitative", "axis": null}, "x2": {"datum": 91.93}, "y2": {"datum": 109800}}},
{"data": {"values": [{}]}, "mark": {"type": "rule", "color": "#c8c8c8", "strokeWidth": 1},
 "encoding": {"x": {"datum": 91.93, "type": "quantitative", "axis": null}, "y": {"datum": 109800, "type": "quantitative", "axis": null}, "x2": {"datum": 85.96}, "y2": {"datum": 44300}}},
{"data": {"values": [{}]}, "mark": {"type": "rule", "color": "#c8c8c8", "strokeWidth": 1},
 "encoding": {"x": {"datum": 97.69, "type": "quantitative", "axis": null}, "y": {"datum": 77000, "type": "quantitative", "axis": null}, "x2": {"datum": 86.15}, "y2": {"datum": 7400}}},
{"data": {"values": [{}]}, "mark": {"type": "rule", "color": "#c8c8c8", "strokeWidth": 1},
 "encoding": {"x": {"datum": 98.21, "type": "quantitative", "axis": null}, "y": {"datum": 72700, "type": "quantitative", "axis": null}, "x2": {"datum": 86.15}, "y2": {"datum": 7400}}},

{"data": {"values": [{}]}, "mark": {"type": "point", "shape": "M -0.8 -1 L 0 0 L 0.8 -1", "filled": false, "stroke": "#c8c8c8", "strokeWidth": 1, "size": 100, "angle": 18.9, "opacity": 1},
 "encoding": {"x": {"datum": 7.94, "type": "quantitative", "axis": null}, "y": {"datum": 6600, "type": "quantitative", "axis": null}}},
{"data": {"values": [{}]}, "mark": {"type": "point", "shape": "M -0.8 -1 L 0 0 L 0.8 -1", "filled": false, "stroke": "#c8c8c8", "strokeWidth": 1, "size": 100, "angle": -4.2, "opacity": 1},
 "encoding": {"x": {"datum": 13.97, "type": "quantitative", "axis": null}, "y": {"datum": 11400, "type": "quantitative", "axis": null}}},
{"data": {"values": [{}]}, "mark": {"type": "point", "shape": "M -0.8 -1 L 0 0 L 0.8 -1", "filled": false, "stroke": "#c8c8c8", "strokeWidth": 1, "size": 100, "angle": -26.8, "opacity": 1},
 "encoding": {"x": {"datum": 19.94, "type": "quantitative", "axis": null}, "y": {"datum": 12200, "type": "quantitative", "axis": null}}},
{"data": {"values": [{}]}, "mark": {"type": "point", "shape": "M -0.8 -1 L 0 0 L 0.8 -1", "filled": false, "stroke": "#c8c8c8", "strokeWidth": 1, "size": 100, "angle": 52.4, "opacity": 1},
 "encoding": {"x": {"datum": 20.95, "type": "quantitative", "axis": null}, "y": {"datum": 78600, "type": "quantitative", "axis": null}}},
{"data": {"values": [{}]}, "mark": {"type": "point", "shape": "M -0.8 -1 L 0 0 L 0.8 -1", "filled": false, "stroke": "#c8c8c8", "strokeWidth": 1, "size": 100, "angle": 8.7, "opacity": 1},
 "encoding": {"x": {"datum": 26.96, "type": "quantitative", "axis": null}, "y": {"datum": 71400, "type": "quantitative", "axis": null}}},
{"data": {"values": [{}]}, "mark": {"type": "point", "shape": "M -0.8 -1 L 0 0 L 0.8 -1", "filled": false, "stroke": "#c8c8c8", "strokeWidth": 1, "size": 100, "angle": -54.6, "opacity": 1},
 "encoding": {"x": {"datum": 33.96, "type": "quantitative", "axis": null}, "y": {"datum": 86600, "type": "quantitative", "axis": null}}},
{"data": {"values": [{}]}, "mark": {"type": "point", "shape": "M -0.8 -1 L 0 0 L 0.8 -1", "filled": false, "stroke": "#c8c8c8", "strokeWidth": 1, "size": 100, "angle": 16.4, "opacity": 1},
 "encoding": {"x": {"datum": 55.88, "type": "quantitative", "axis": null}, "y": {"datum": 25100, "type": "quantitative", "axis": null}}},
{"data": {"values": [{}]}, "mark": {"type": "point", "shape": "M -0.8 -1 L 0 0 L 0.8 -1", "filled": false, "stroke": "#c8c8c8", "strokeWidth": 1, "size": 100, "angle": -18.8, "opacity": 1},
 "encoding": {"x": {"datum": 85.96, "type": "quantitative", "axis": null}, "y": {"datum": 29000, "type": "quantitative", "axis": null}}},
{"data": {"values": [{}]}, "mark": {"type": "point", "shape": "M -0.8 -1 L 0 0 L 0.8 -1", "filled": false, "stroke": "#c8c8c8", "strokeWidth": 1, "size": 100, "angle": 33.2, "opacity": 1},
 "encoding": {"x": {"datum": 85.96, "type": "quantitative", "axis": null}, "y": {"datum": 44300, "type": "quantitative", "axis": null}}},

{"data": {"values": [{}]}, "mark": {"type": "rect", "fillOpacity": 0, "fill": "#0f0f0f", "stroke": "#b4b4b4", "strokeWidth": 1.5, "cornerRadius": 7},
 "encoding": {"x": {"datum": 3.92, "type": "quantitative", "axis": null}, "x2": {"datum": 11.95}, "y": {"datum": 144700, "type": "quantitative", "axis": null}, "y2": {"datum": 117960}}},
{"data": {"values": [{}]}, "mark": {"type": "rect", "fillOpacity": 0, "fill": "#0f0f0f", "stroke": "#b4b4b4", "strokeWidth": 1.5, "cornerRadius": 7},
 "encoding": {"x": {"datum": 17.60, "type": "quantitative", "axis": null}, "x2": {"datum": 30.31}, "y": {"datum": 153500, "type": "quantitative", "axis": null}, "y2": {"datum": 126600}}},
{"data": {"values": [{}]}, "mark": {"type": "rect", "fillOpacity": 0, "fill": "#0f0f0f", "stroke": "#b4b4b4", "strokeWidth": 1.5, "cornerRadius": 7},
 "encoding": {"x": {"datum": 39.64, "type": "quantitative", "axis": null}, "x2": {"datum": 58.32}, "y": {"datum": 153100, "type": "quantitative", "axis": null}, "y2": {"datum": 117400}}},
{"data": {"values": [{}]}, "mark": {"type": "rect", "fillOpacity": 0, "fill": "#0f0f0f", "stroke": "#b4b4b4", "strokeWidth": 1.5, "cornerRadius": 7},
 "encoding": {"x": {"datum": 62.97, "type": "quantitative", "axis": null}, "x2": {"datum": 70.97}, "y": {"datum": 151100, "type": "quantitative", "axis": null}, "y2": {"datum": 133100}}},
{"data": {"values": [{}]}, "mark": {"type": "rect", "fillOpacity": 0, "fill": "#0f0f0f", "stroke": "#b4b4b4", "strokeWidth": 1.5, "cornerRadius": 7},
 "encoding": {"x": {"datum": 61.66, "type": "quantitative", "axis": null}, "x2": {"datum": 76.31}, "y": {"datum": 108200, "type": "quantitative", "axis": null}, "y2": {"datum": 90100}}},
{"data": {"values": [{}]}, "mark": {"type": "rect", "fillOpacity": 0, "fill": "#0f0f0f", "stroke": "#b4b4b4", "strokeWidth": 1.5, "cornerRadius": 7},
 "encoding": {"x": {"datum": 74.98, "type": "quantitative", "axis": null}, "x2": {"datum": 83.0}, "y": {"datum": 143400, "type": "quantitative", "axis": null}, "y2": {"datum": 125000}}},
{"data": {"values": [{}]}, "mark": {"type": "rect", "fillOpacity": 0, "fill": "#0f0f0f", "stroke": "#b4b4b4", "strokeWidth": 1.5, "cornerRadius": 7},
 "encoding": {"x": {"datum": 94.55, "type": "quantitative", "axis": null}, "x2": {"datum": 115.35}, "y": {"datum": 131800, "type": "quantitative", "axis": null}, "y2": {"datum": 104700}}},
{"data": {"values": [{}]}, "mark": {"type": "rect", "fillOpacity": 0, "fill": "#0f0f0f", "stroke": "#b4b4b4", "strokeWidth": 1.5, "cornerRadius": 7},
 "encoding": {"x": {"datum": 97.69, "type": "quantitative", "axis": null}, "x2": {"datum": 110.34}, "y": {"datum": 91000, "type": "quantitative", "axis": null}, "y2": {"datum": 72700}}},

{"data": {"values": [{}]}, "mark": {"type": "text", "align": "left", "baseline": "middle", "fontSize": 17.3, "fontWeight": 500, "lineHeight": 18.4, "font": "Noto Sans", "color": "#ffffff"},
 "encoding": {"x": {"datum": 4.67, "type": "quantitative", "axis": null}, "y": {"datum": 135900, "type": "quantitative", "axis": null}, "text": {"value": ["Delta", "Histogram"]}}},
{"data": {"values": [{}]}, "mark": {"type": "text", "align": "left", "baseline": "middle", "fontSize": 17.3, "fontWeight": 500, "lineHeight": 18.4, "font": "Noto Sans", "color": "#ffffff"},
 "encoding": {"x": {"datum": 18.27, "type": "quantitative", "axis": null}, "y": {"datum": 144700, "type": "quantitative", "axis": null}, "text": {"value": ["Total Volume(light", "gray color)"]}}},
{"data": {"values": [{}]}, "mark": {"type": "text", "align": "left", "baseline": "middle", "fontSize": 17.3, "fontWeight": 500, "lineHeight": 18.4, "font": "Noto Sans", "color": "#ffffff"},
 "encoding": {"x": {"datum": 40.36, "type": "quantitative", "axis": null}, "y": {"datum": 144200, "type": "quantitative", "axis": null}, "text": {"value": ["Buy volume", "Buy volume exceeded sell", "volume"]}}},
{"data": {"values": [{}]}, "mark": {"type": "text", "align": "left", "baseline": "middle", "fontSize": 17.3, "fontWeight": 500, "lineHeight": 18.4, "font": "Noto Sans", "color": "#ffffff"},
 "encoding": {"x": {"datum": 63.69, "type": "quantitative", "axis": null}, "y": {"datum": 142300, "type": "quantitative", "axis": null}, "text": {"value": "Sell volume"}}},
{"data": {"values": [{}]}, "mark": {"type": "text", "align": "left", "baseline": "middle", "fontSize": 17.3, "fontWeight": 500, "lineHeight": 18.4, "font": "Noto Sans", "color": "#ffffff"},
 "encoding": {"x": {"datum": 62.33, "type": "quantitative", "axis": null}, "y": {"datum": 99500, "type": "quantitative", "axis": null}, "text": {"value": "Positive (Green) Delta"}}},
{"data": {"values": [{}]}, "mark": {"type": "text", "align": "left", "baseline": "middle", "fontSize": 17.3, "fontWeight": 500, "lineHeight": 18.4, "font": "Noto Sans", "color": "#ffffff"},
 "encoding": {"x": {"datum": 75.64, "type": "quantitative", "axis": null}, "y": {"datum": 134600, "type": "quantitative", "axis": null}, "text": {"value": "Buy volume"}}},
{"data": {"values": [{}]}, "mark": {"type": "text", "align": "left", "baseline": "middle", "fontSize": 17.3, "fontWeight": 500, "lineHeight": 18.4, "font": "Noto Sans", "color": "#ffffff"},
 "encoding": {"x": {"datum": 95.37, "type": "quantitative", "axis": null}, "y": {"datum": 123100, "type": "quantitative", "axis": null}, "text": {"value": ["Sell volume", "Sell volume exceeded buy volume"]}}},
{"data": {"values": [{}]}, "mark": {"type": "text", "align": "left", "baseline": "middle", "fontSize": 17.3, "fontWeight": 500, "lineHeight": 18.4, "font": "Noto Sans", "color": "#ffffff"},
 "encoding": {"x": {"datum": 98.33, "type": "quantitative", "axis": null}, "y": {"datum": 82300, "type": "quantitative", "axis": null}, "text": {"value": "Negative (Red) Delta"}}},

{"data": {"values": [{}]}, "mark": {"type": "rect", "fill": "#ffeb3b"},
 "encoding": {"x": {"datum": 116.55, "type": "quantitative", "axis": null}, "x2": {"datum": 119.87}, "y": {"datum": 66960, "type": "quantitative", "axis": null}, "y2": {"datum": 58940}}},
{"data": {"values": [{}]}, "mark": {"type": "text", "align": "left", "baseline": "middle", "fontSize": 11.5, "color": "#131722"},
 "encoding": {"x": {"datum": 117.07, "type": "quantitative", "axis": null}, "y": {"datum": 63120, "type": "quantitative", "axis": null}, "text": {"value": "63.12 K"}}},
{"data": {"values": [{}]}, "mark": {"type": "rect", "fill": "#787b86"},
 "encoding": {"x": {"datum": 116.55, "type": "quantitative", "axis": null}, "x2": {"datum": 119.47}, "y": {"datum": 41040, "type": "quantitative", "axis": null}, "y2": {"datum": 33020}}},
{"data": {"values": [{}]}, "mark": {"type": "text", "align": "left", "baseline": "middle", "fontSize": 11.5, "color": "#ffffff"},
 "encoding": {"x": {"datum": 117.07, "type": "quantitative", "axis": null}, "y": {"datum": 37030, "type": "quantitative", "axis": null}, "text": {"value": "37.3 K"}}},
{"data": {"values": [{}]}, "mark": {"type": "rect", "fill": "#089981"},
 "encoding": {"x": {"datum": 116.55, "type": "quantitative", "axis": null}, "x2": {"datum": 119.87}, "y": {"datum": 22660, "type": "quantitative", "axis": null}, "y2": {"datum": 14640}}},
{"data": {"values": [{}]}, "mark": {"type": "text", "align": "left", "baseline": "middle", "fontSize": 11.5, "color": "#ffffff"},
 "encoding": {"x": {"datum": 117.13, "type": "quantitative", "axis": null}, "y": {"datum": 18650, "type": "quantitative", "axis": null}, "text": {"value": "18.99 K"}}},
{"data": {"values": [{}]}, "mark": {"type": "rect", "fill": "#f23645"},
 "encoding": {"x": {"datum": 116.55, "type": "quantitative", "axis": null}, "x2": {"datum": 119.87}, "y": {"datum": 14640, "type": "quantitative", "axis": null}, "y2": {"datum": 6620}}},
{"data": {"values": [{}]}, "mark": {"type": "text", "align": "left", "baseline": "middle", "fontSize": 11.5, "color": "#ffffff"},
 "encoding": {"x": {"datum": 117.13, "type": "quantitative", "axis": null}, "y": {"datum": 10630, "type": "quantitative", "axis": null}, "text": {"value": "18.31 K"}}},
{"data": {"values": [{}]}, "mark": {"type": "rect", "fill": "#ff0000"},
 "encoding": {"x": {"datum": 116.55, "type": "quantitative", "axis": null}, "x2": {"datum": 119.47}, "y": {"datum": 6140, "type": "quantitative", "axis": null}, "y2": {"datum": -1820}}},
{"data": {"values": [{}]}, "mark": {"type": "text", "align": "left", "baseline": "middle", "fontSize": 11.5, "color": "#ffffff"},
 "encoding": {"x": {"datum": 117.07, "type": "quantitative", "axis": null}, "y": {"datum": 2160, "type": "quantitative", "axis": null}, "text": {"value": "2.25 K"}}},
{"data": {"values": [{}]}, "mark": {"type": "rect", "fill": "#00ff00"},
 "encoding": {"x": {"datum": 116.55, "type": "quantitative", "axis": null}, "x2": {"datum": 118.63}, "y": {"datum": -2160, "type": "quantitative", "axis": null}, "y2": {"datum": -10180}}},
{"data": {"values": [{}]}, "mark": {"type": "text", "align": "left", "baseline": "middle", "fontSize": 11.5, "color": "#131722"},
 "encoding": {"x": {"datum": 117.07, "type": "quantitative", "axis": null}, "y": {"datum": -6170, "type": "quantitative", "axis": null}, "text": {"value": "674"}}},

{"data": {"values": [{}]}, "mark": {"type": "text", "align": "left", "baseline": "middle", "fontSize": 24, "fontWeight": 900, "color": "#d9d9d9"},
 "encoding": {"x": {"datum": -0.575, "type": "quantitative", "axis": null}, "y": {"datum": -44880, "type": "quantitative", "axis": null}, "text": {"value": "17"}}},
{"data": {"values": [{}]}, "mark": {"type": "text", "align": "left", "baseline": "middle", "fontSize": 21.5, "fontWeight": "bold", "color": "#d9d9d9"},
 "encoding": {"x": {"datum": 1.83, "type": "quantitative", "axis": null}, "y": {"datum": -44880, "type": "quantitative", "axis": null}, "text": {"value": "TradingView"}}}
]
},
{
"data": {"name": "tbl"},
"layer": [
{"mark": {"type": "rect", "color": "#141823"},
 "encoding": {"x": {"datum": 106.12, "type": "quantitative", "axis": null}, "x2": {"datum": 110.46},
  "y": {"field": "metric", "type": "nominal", "scale": {"domain": ["METRIC", "Session Delta", "Flow Regime", "Intensity (σ)"], "range": [469.7, 549], "paddingInner": 0.06, "paddingOuter": 0}, "axis": null}}},
{"mark": {"type": "rect", "color": "#141823"},
 "encoding": {"x": {"datum": 110.52, "type": "quantitative", "axis": null}, "x2": {"datum": 115.82},
  "y": {"field": "metric", "type": "nominal", "axis": null}}},
{"mark": {"type": "text", "fontSize": 9.5, "color": "#d1d4dc", "align": "center", "baseline": "middle"},
 "encoding": {"x": {"datum": 108.29, "type": "quantitative", "axis": null}, "y": {"field": "metric", "type": "nominal", "axis": null}, "text": {"field": "metric"}}},
{"mark": {"type": "text", "fontSize": 9.5, "align": "center", "baseline": "middle"},
 "encoding": {"x": {"datum": 113.17, "type": "quantitative", "axis": null}, "y": {"field": "metric", "type": "nominal", "axis": null}, "text": {"field": "value"},
  "color": {"condition": [{"test": "datum.metric == 'Session Delta'", "value": "#f23645"}, {"test": "datum.metric == 'Flow Regime'", "value": "#089981"}], "value": "#d1d4dc"}}}
]
}
]
}
